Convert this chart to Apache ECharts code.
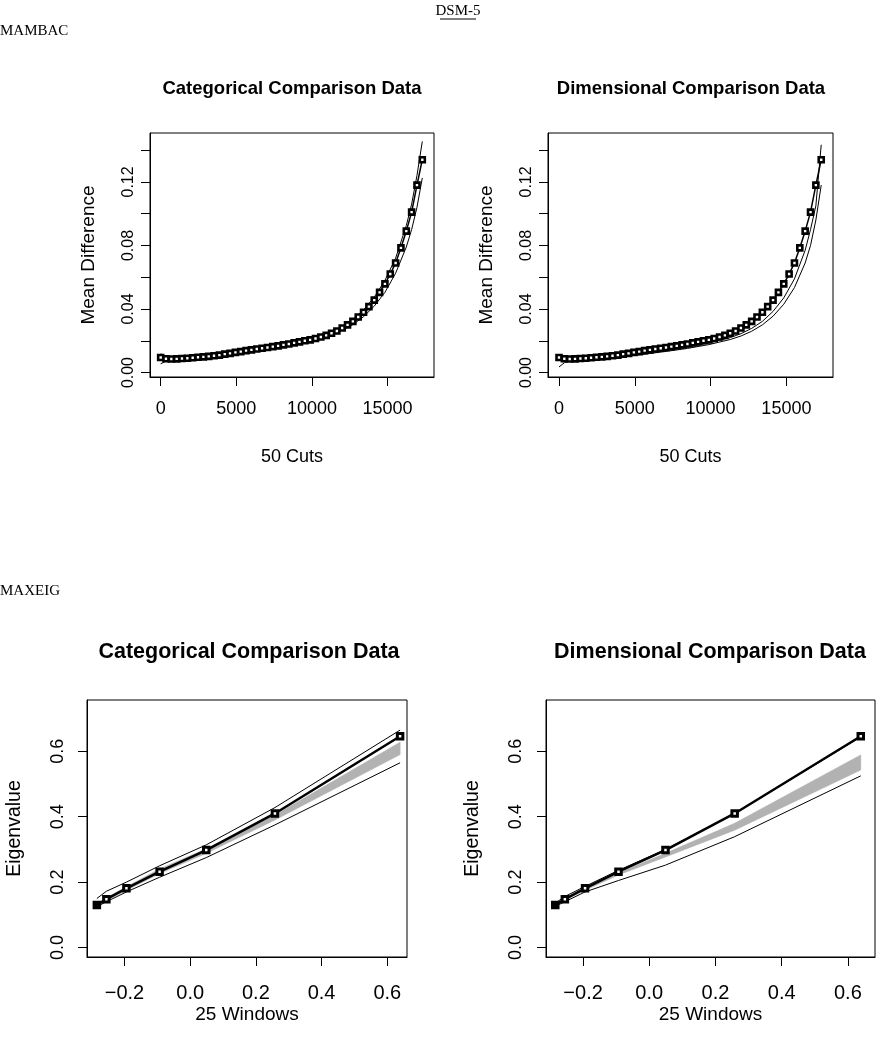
<!DOCTYPE html>
<html><head><meta charset="utf-8">
<script src="https://cdn.jsdelivr.net/npm/echarts@6/dist/echarts.min.js"></script>
<style>html,body{margin:0;padding:0;background:#fff}#c{width:879px;height:1050px}</style>
</head><body><div id="c"></div>
<script>
// ---------- MAMBAC data (50 cuts) ----------
const cutsX = [0,353,706,1059,1412,1765,2118,2471,2824,3177,3530,3883,4236,4589,4942,5295,5648,6001,6354,6707,
  7060,7413,7766,8119,8472,8825,9178,9531,9884,10237,10590,10943,11296,11649,12002,12355,12708,13061,13414,13767,
  14120,14473,14826,15179,15532,15885,16238,16591,16944,17297];
const mambacResearch = [0.0095,0.0087,0.0085,0.0086,0.0088,0.0090,0.0093,0.0096,0.0099,0.0102,0.0106,0.0110,0.0116,0.0121,0.0127,
  0.0132,0.0138,0.0143,0.0148,0.0153,0.0158,0.0163,0.0168,0.0174,0.0180,0.0187,0.0193,0.0200,0.0206,0.0214,
  0.0224,0.0234,0.0247,0.0262,0.0280,0.0300,0.0322,0.0350,0.0380,0.0415,0.0456,0.0505,0.0558,0.0620,0.0690,
  0.0785,0.0890,0.1010,0.1180,0.1340];
const mambacLineX = [0,353,706,1412,2824,4236,5648,7060,8472,9884,11296,12002,12708,13414,14120,14826,15532,16238,16591,16944,17297];
const catMambacUpper = [0.0118,0.0100,0.0089,0.0090,0.0101,0.0118,0.0140,0.0160,0.0183,0.0211,0.0255,0.0290,0.0335,0.0395,0.0475,0.0580,0.0720,0.0925,0.1060,0.1240,0.1455];
const catMambacLower = [0.0055,0.0072,0.0080,0.0085,0.0096,0.0112,0.0133,0.0153,0.0175,0.0200,0.0238,0.0266,0.0302,0.0352,0.0418,0.0505,0.0625,0.0790,0.0900,0.1040,0.1225];
const dimMambacUpper = [0.0098,0.0090,0.0086,0.0085,0.0092,0.0105,0.0122,0.0140,0.0160,0.0186,0.0220,0.0245,0.0278,0.0322,0.0385,0.0470,0.0590,0.0770,0.0900,0.1050,0.1434];
const dimMambacLower = [0.0035,0.0062,0.0075,0.0080,0.0088,0.0100,0.0116,0.0133,0.0152,0.0176,0.0208,0.0230,0.0260,0.0300,0.0355,0.0430,0.0535,0.0690,0.0800,0.0960,0.1180];
const mambacXTicks = [0,5000,10000,15000];
const mambacYTicks = [0,0.02,0.04,0.06,0.08,0.10,0.12,0.14];
const mambacYLabels = [0,0.04,0.08,0.12];

// ---------- MAXEIG data (25 windows) ----------
const winX = [-0.284,-0.255,-0.194,-0.093,0.049,0.258,0.639];
const eigResearch = [0.130,0.148,0.181,0.232,0.298,0.410,0.646];
const catEigUpper = [0.150,0.172,0.200,0.250,0.314,0.428,0.665];
const catEigLower = [0.125,0.140,0.170,0.215,0.275,0.375,0.565];
const catBandHi = [0.133,0.152,0.186,0.240,0.302,0.405,0.628];
const catBandLo = [0.127,0.143,0.175,0.226,0.288,0.390,0.590];
const dimEigUpper = [0.136,0.156,0.187,0.236,0.300,0.410,0.644];
const dimEigLower = [0.126,0.140,0.170,0.205,0.252,0.339,0.525];
const dimBandHi = [0.132,0.150,0.181,0.229,0.288,0.380,0.589];
const dimBandLo = [0.128,0.144,0.175,0.222,0.277,0.359,0.543];
const eigXTicks = [-0.2,0,0.2,0.4,0.6];
const eigYTicks = [0,0.2,0.4,0.6];

// ---------- text ----------
const panelTitles = ['Categorical Comparison Data','Dimensional Comparison Data','Categorical Comparison Data','Dimensional Comparison Data'];

const FONT = '"Liberation Sans", Arial, sans-serif';
const SERIF = '"Liberation Serif", "Times New Roman", serif';
const pairs = (xs, ys) => xs.map((x, i) => [x, ys[i]]);
const fmtMinus = (v, d) => { const s = Math.abs(v).toFixed(d); return (v < -1e-9 ? '\u2212' : '') + s; };

function xAxisCfg(gi, min, max, ticks, name, fs, margin, nameGap, nameFs, dec) {
  return {
    gridIndex: gi, type: 'value', min: min, max: max,
    axisLine: {show: true, onZero: false, lineStyle: {color: '#000', width: 1}},
    axisTick: {show: true, length: 9, customValues: ticks, lineStyle: {color: '#000', width: 1}},
    axisLabel: {show: true, customValues: ticks, fontSize: fs, fontFamily: FONT, color: '#000', margin: margin,
      formatter: v => dec == null ? String(Math.round(v)) : fmtMinus(v, dec)},
    splitLine: {show: false},
    name: name, nameLocation: 'middle', nameGap: nameGap,
    nameTextStyle: {fontSize: nameFs, fontFamily: FONT, color: '#000'}
  };
}
function yAxisCfg(gi, min, max, ticks, labels, fs, margin, name, nameGap, nameFs, dec) {
  return {
    gridIndex: gi, type: 'value', min: min, max: max,
    axisLine: {show: true, onZero: false, lineStyle: {color: '#000', width: 1}},
    axisTick: {show: true, length: 9, customValues: ticks, lineStyle: {color: '#000', width: 1}},
    axisLabel: {show: true, customValues: labels, rotate: 90, fontSize: fs, fontFamily: FONT, color: '#000', margin: margin,
      formatter: v => fmtMinus(v, dec)},
    splitLine: {show: false},
    name: name, nameLocation: 'middle', nameGap: nameGap, nameRotate: 90,
    nameTextStyle: {fontSize: nameFs, fontFamily: FONT, color: '#000'}
  };
}

const thin = (gi, xs, ys) => ({
  type: 'line', xAxisIndex: gi, yAxisIndex: gi, data: pairs(xs, ys), symbol: 'none',
  lineStyle: {color: '#000', width: 1}, z: 3, silent: true
});
const research = (gi, xs, ys, size, bw, lw, firstFilled) => ({
  type: 'line', xAxisIndex: gi, yAxisIndex: gi,
  data: pairs(xs, ys).map((p, i) => (firstFilled && i === 0) ? {value: p, itemStyle: {color: '#000'}} : p),
  symbol: 'rect', symbolSize: size, showSymbol: true,
  itemStyle: {color: '#fff', borderColor: '#000', borderWidth: bw},
  lineStyle: {color: '#000', width: lw}, z: 5, silent: true
});
// gray band between two bounds, drawn as quads between consecutive windows
const band = (gi, xs, lo, hi) => ({
  type: 'custom', xAxisIndex: gi, yAxisIndex: gi, z: 2, silent: true,
  data: xs.slice(0, -1).map((x, i) => [x, lo[i], hi[i], xs[i + 1], lo[i + 1], hi[i + 1]]),
  encode: {x: [0, 3], y: [1, 2, 4, 5]},
  renderItem: (params, api) => {
    const a = api.coord([api.value(0), api.value(1)]);
    const b = api.coord([api.value(0), api.value(2)]);
    const c = api.coord([api.value(3), api.value(5)]);
    const d = api.coord([api.value(3), api.value(4)]);
    return {type: 'polygon', shape: {points: [a, b, c, d]},
      style: {fill: '#b2b2b2', stroke: '#b2b2b2', lineWidth: 0.6}};
  }
});

const titleText = (x, y, t, fs) => ({
  type: 'text', x: x, y: y, silent: true,
  style: {text: t, fontSize: fs, fontWeight: 'bold', fontFamily: FONT, fill: '#000',
    align: 'center', verticalAlign: 'middle', textAlign: 'center', textVerticalAlign: 'middle'}
});
const plainText = (x, y, t, fs, align) => ({
  type: 'text', x: x, y: y, silent: true,
  style: {text: t, fontSize: fs, fontFamily: SERIF, fill: '#000',
    align: align, verticalAlign: 'middle', textAlign: align, textVerticalAlign: 'middle'}
});

const option = {
  animation: false,
  backgroundColor: '#fff',
  grid: [
    {left: 150, top: 133, width: 284, height: 244, show: true, borderColor: '#000', borderWidth: 1, backgroundColor: 'transparent'},
    {left: 548, top: 133, width: 285, height: 244, show: true, borderColor: '#000', borderWidth: 1, backgroundColor: 'transparent'},
    {left: 87, top: 700, width: 320, height: 257, show: true, borderColor: '#000', borderWidth: 1, backgroundColor: 'transparent'},
    {left: 546, top: 700, width: 329, height: 257, show: true, borderColor: '#000', borderWidth: 1, backgroundColor: 'transparent'}
  ],
  xAxis: [
    xAxisCfg(0, -705, 18070, mambacXTicks, '50 Cuts', 18, 23, 71, 18, null),
    xAxisCfg(1, -726, 18074, mambacXTicks, '50 Cuts', 18, 23, 71, 18, null),
    xAxisCfg(2, -0.314, 0.66, eigXTicks, '25 Windows', 20, 26, 48, 19, 1),
    xAxisCfg(3, -0.312, 0.682, eigXTicks, '25 Windows', 20, 26, 48, 19, 1)
  ],
  yAxis: [
    yAxisCfg(0, -0.0028, 0.1508, mambacYTicks, mambacYLabels, 16, 13, 'Mean Difference', 52, 19, 2),
    yAxisCfg(1, -0.0028, 0.1508, mambacYTicks, mambacYLabels, 16, 13, 'Mean Difference', 52, 19, 2),
    yAxisCfg(2, -0.029, 0.757, eigYTicks, eigYTicks, 18, 20, 'Eigenvalue', 62, 19.5, 1),
    yAxisCfg(3, -0.029, 0.757, eigYTicks, eigYTicks, 18, 21, 'Eigenvalue', 63, 19.5, 1)
  ],
  series: [
    thin(0, mambacLineX, catMambacUpper),
    thin(0, mambacLineX, catMambacLower),
    research(0, cutsX, mambacResearch, 5, 2.6, 1.5, false),
    thin(1, mambacLineX, dimMambacUpper),
    thin(1, mambacLineX, dimMambacLower),
    research(1, cutsX, mambacResearch, 5, 2.6, 1.5, false),
    band(2, winX, catBandLo, catBandHi),
    thin(2, winX, catEigUpper),
    thin(2, winX, catEigLower),
    research(2, winX, eigResearch, 5.5, 3, 2.5, true),
    band(3, winX, dimBandLo, dimBandHi),
    thin(3, winX, dimEigUpper),
    thin(3, winX, dimEigLower),
    research(3, winX, eigResearch, 5.5, 3, 2.5, true)
  ],
  graphic: [
    plainText(458, 11, 'DSM-5', 15, 'center'),
    {type: 'line', silent: true, shape: {x1: 440, y1: 19, x2: 476, y2: 19}, style: {stroke: '#000', lineWidth: 1}},
    plainText(0, 31, 'MAMBAC', 15, 'left'),
    plainText(0, 591, 'MAXEIG', 15, 'left'),
    titleText(292, 89, panelTitles[0], 18.5),
    titleText(691, 89, panelTitles[1], 18.5),
    titleText(249, 652, panelTitles[2], 21.5),
    titleText(710, 652, panelTitles[3], 21.5)
  ]
};
const chart = echarts.init(document.getElementById('c'), null, {renderer: 'canvas'});
chart.setOption(option);
</script>
</body></html>
